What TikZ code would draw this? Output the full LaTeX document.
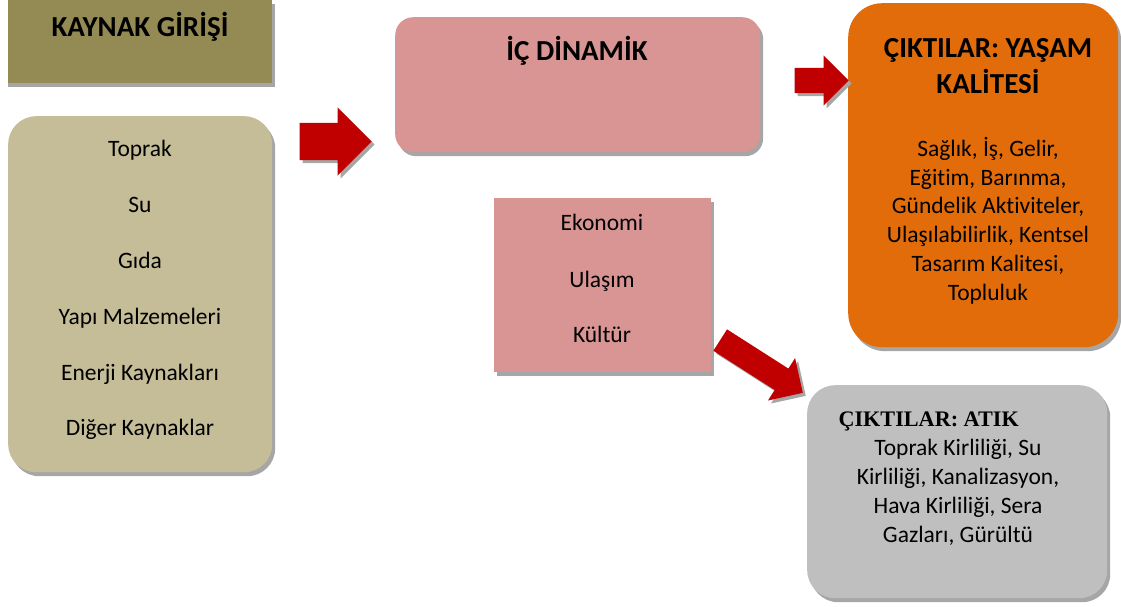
\documentclass[tikz,border=0pt]{standalone}
\usepackage{fontspec}
\setmainfont{Carlito}[Ligatures=NoCommon]
\newfontfamily\serifhead{Liberation Serif}
\usetikzlibrary{shapes.arrows,shadows,positioning}

\definecolor{olivebox}{HTML}{948A54}
\definecolor{tanbox}{HTML}{C4BD97}
\definecolor{rosebox}{HTML}{D99594}
\definecolor{orangebox}{HTML}{E36C0A}
\definecolor{greybox}{HTML}{BFBFBF}
\definecolor{arrowred}{HTML}{C00000}
\definecolor{shadegray}{HTML}{A6A6A6}

\begin{document}
\begin{tikzpicture}[
  x=1pt, y=-1pt,
  shadowed/.style={drop shadow={shadow xshift=3pt, shadow yshift=-4pt, fill=shadegray, opacity=1}},
  box/.style={shadowed, inner sep=0pt, anchor=north west},
  roundbox/.style={box, rounded corners=28pt},
  bigarrow/.style={single arrow, fill=arrowred, inner xsep=0pt, single arrow head indent=0pt, anchor=tip,
    drop shadow={shadow xshift=3pt, shadow yshift=-3pt, fill=shadegray, opacity=1}},
  title/.style={font=\fontsize{29}{36}\selectfont\bfseries, anchor=base, align=center},
  body/.style={font=\fontsize{23.5}{28.7}\selectfont, anchor=base, align=center}
]
\useasboundingbox (0,0) rectangle (1121,606);

% boxes
\node[box, fill=olivebox, minimum width=264pt, minimum height=83pt,
  drop shadow={shadow xshift=0pt, shadow yshift=-4pt, fill=shadegray, opacity=1}] (srchead) at (8,0) {};
\node[roundbox, fill=tanbox, minimum width=264pt, minimum height=356pt] (src) at (8,116) {};
\node[box, fill=rosebox, rounded corners=18pt, minimum width=365pt, minimum height=135pt] (dyn) at (395,17) {};
\node[box, fill=rosebox, minimum width=217pt, minimum height=174pt] (dynlist) at (494,198) {};
\node[roundbox, rounded corners=34pt, fill=orangebox, minimum width=270pt, minimum height=344pt] (life) at (848,3) {};
\node[roundbox, fill=greybox, minimum width=300pt, minimum height=213pt] (waste) at (807,385) {};

% texts (base = last line of a node)
\node[title] (srctitle) at (140,36) {KAYNAK GİRİŞİ};
\node[body] (src1) at (140,156) {Toprak};
\node[body] (src2) at (140,212) {Su};
\node[body] (src3) at (140,268) {Gıda};
\node[body] (src4) at (140,324) {Yapı Malzemeleri};
\node[body] (src5) at (140,380) {Enerji Kaynakları};
\node[body] (src6) at (140,435) {Diğer Kaynaklar};

\node[title] (dyntitle) at (577,60) {İÇ DİNAMİK};
\node[body] (dyn1) at (602,230) {Ekonomi};
\node[body] (dyn2) at (602,287) {Ulaşım};
\node[body] (dyn3) at (602,342) {Kültür};

\node[title] (lifetitle) at (988,93) {ÇIKTILAR: YAŞAM\\KALİTESİ};
\node[body] (lifetext) at (988,300) {Sağlık, İş, Gelir,\\Eğitim, Barınma,\\Gündelik Aktiviteler,\\Ulaşılabilirlik, Kentsel\\Tasarım Kalitesi,\\Topluluk};

\node[font=\fontsize{22.2}{26}\selectfont\serifhead\bfseries, anchor=base west] (wastetitle) at (835,426) {ÇIKTILAR: ATIK};
\node[body, font=\fontsize{23.5}{29}\selectfont] (wastetext) at (958,542) {Toprak Kirliliği, Su\\Kirliliği, Kanalizasyon,\\Hava Kirliliği, Sera\\Gazları, Gürültü};

% block arrows
\node[bigarrow, minimum height=72pt, inner ysep=18.5pt, single arrow head extend=15.5pt] (toin) at (372,141.5) {};
\node[bigarrow, minimum height=54pt, inner ysep=12.5pt, single arrow head extend=12.5pt] (tolife) at (849,80.5) {};
\node[bigarrow, minimum height=98pt, inner ysep=12.5pt, single arrow head extend=12.5pt, rotate=-32.6] (towaste) at (803,393) {};

\end{tikzpicture}
\end{document}
